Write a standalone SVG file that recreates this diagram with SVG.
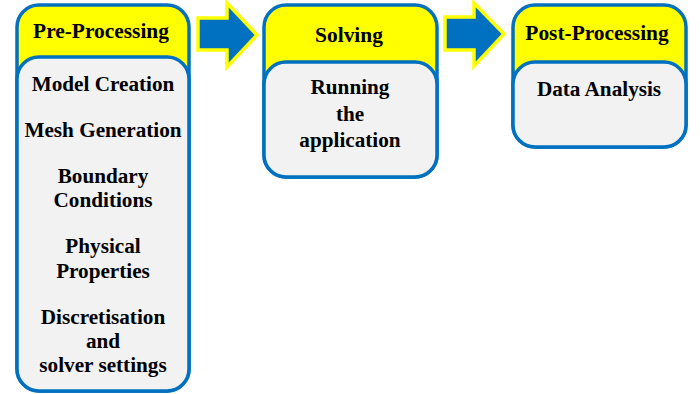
<svg xmlns="http://www.w3.org/2000/svg" width="700" height="394" viewBox="0 0 700 394">
<style>
.outer{fill:#FFFF00;stroke:#0070C0;stroke-width:3.5}
.inner{fill:#F2F2F2;stroke:#0070C0;stroke-width:3.5}
.arrow{fill:#0070C0;stroke:#FFFF00;stroke-width:3.5;stroke-linejoin:miter}
text{font-family:"Liberation Serif","Times New Roman",serif;font-weight:bold;fill:#000;text-anchor:middle}
.h{font-size:21.4px}
.b{font-size:21.2px}
</style>
<rect width="700" height="394" fill="#fff"/>
<g id="connectors">
<polygon class="arrow" points="198,18 227,18 227,3 257,35 227,67 227,50 198,50"/>
<polygon class="arrow" points="445,17 474,17 474,3 504,34 474,66 474,50 445,50"/>
</g>
<g id="pre-processing">
<rect class="outer" x="17" y="5" width="172" height="386" rx="22"/>
<rect class="inner" x="17" y="57" width="172" height="334" rx="22"/>
<text class="h" x="101" y="38">Pre-Processing</text>
<text class="b" x="103" y="91">Model Creation</text>
<text class="b" x="103" y="137">Mesh Generation</text>
<text class="b" x="103" y="183">Boundary</text>
<text class="b" x="103" y="207">Conditions</text>
<text class="b" x="103" y="253">Physical</text>
<text class="b" x="103" y="278">Properties</text>
<text class="b" x="103" y="324">Discretisation</text>
<text class="b" x="103" y="348">and</text>
<text class="b" x="103" y="372">solver settings</text>
</g>
<g id="solving">
<rect class="outer" x="264" y="5" width="173" height="172" rx="22"/>
<rect class="inner" x="264" y="62" width="173" height="115" rx="22"/>
<text class="h" x="349" y="42">Solving</text>
<text class="b" x="350" y="94">Running</text>
<text class="b" x="350" y="121">the</text>
<text class="b" x="350" y="147">application</text>
</g>
<g id="post-processing">
<rect class="outer" x="513" y="5" width="173" height="142" rx="22"/>
<rect class="inner" x="513" y="62" width="173" height="85" rx="22"/>
<text class="h" x="597" y="40">Post-Processing</text>
<text class="b" x="599" y="96">Data Analysis</text>
</g>
</svg>
